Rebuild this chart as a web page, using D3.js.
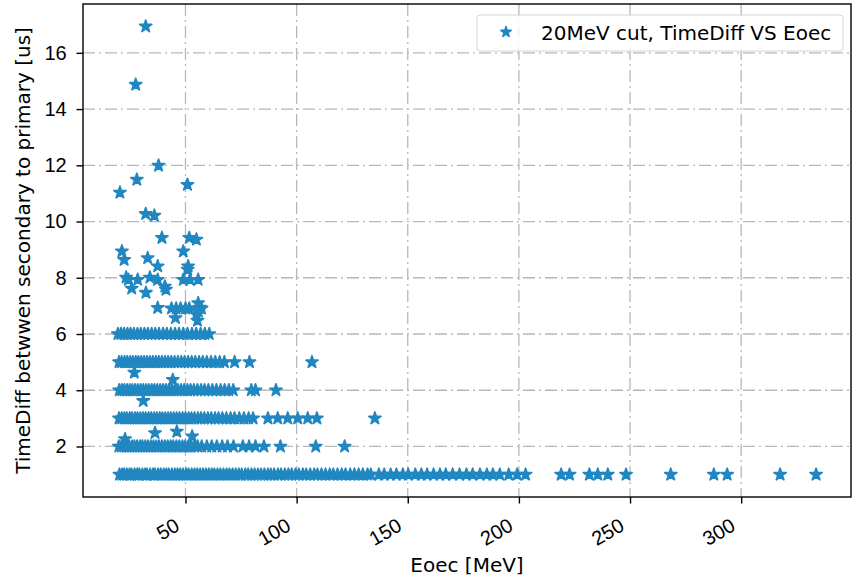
<!DOCTYPE html>
<html>
<head>
<meta charset="utf-8">
<script src="https://cdn.jsdelivr.net/npm/d3@7"></script>
<style>
	body { margin: 0; background: white; }
	svg { font-family: "DejaVu Sans", sans-serif; }
</style>
</head>
<body>
<svg id="chart" width="856" height="579"></svg>
<script>
	// Eoec [MeV] values of the points sitting on each integer TimeDiff row
	const row1X = [20.3, 21.5, 22.4, 23.6, 24.8, 25.7, 27.1, 28.3, 29.2, 30.6, 31.8, 32.7, 34.1, 35.4, 36.3, 37.7,
		38.9, 40.2, 41.4, 42.5, 43.9, 45.2, 46.4, 47.6, 48.9, 50.3, 51.4, 52.8, 54.1, 55.3, 56.6, 57.9, 59.2, 60.5,
		61.8, 63.0, 64.4, 65.7, 67.1, 68.5, 69.8, 71.2, 72.6, 74.0, 75.3, 76.9, 78.2, 79.7, 81.1, 82.6, 84.0, 85.5,
		87.1, 88.4, 89.9, 91.6, 93.0, 94.7, 96.3, 97.8, 99.5, 101.0, 102.8, 104.3, 106.1, 107.9, 109.4, 111.2, 113.0,
		114.9, 116.5, 118.4, 120.3, 122.0, 124.1, 126.0, 127.9, 129.8, 131.9, 133.4, 137.0, 139.4, 142.3, 144.9,
		147.8, 150.2, 153.4, 156.1, 158.7, 161.6, 164.5, 167.1, 170.2, 173.3, 176.4, 179.2, 182.5, 185.6, 188.3,
		191.4, 195.4, 199.2, 203.0, 219.0, 222.8, 231.7, 235.5, 240.0, 248.2, 268.3, 287.7, 293.7, 317.5, 333.7];
	const row2X = [20.0, 21.2, 22.3, 23.5, 24.6, 25.9, 27.0, 28.2, 29.5, 30.6, 31.9, 33.1, 34.4, 35.6, 36.9, 38.1,
		39.4, 40.7, 42.0, 43.3, 44.5, 45.9, 47.2, 48.6, 49.9, 51.3, 52.6, 54.0, 55.5, 57.3, 59.6, 61.8, 64.1, 66.5,
		68.9, 71.6, 75.8, 78.6, 81.5, 85.3, 92.7, 108.6, 121.6];
	const row3X = [20.1, 21.3, 22.5, 23.6, 24.9, 26.0, 27.3, 28.4, 29.7, 30.9, 32.1, 33.4, 34.6, 35.9, 37.1, 38.4,
		39.6, 40.9, 42.2, 43.4, 44.7, 46.0, 47.3, 48.7, 50.0, 51.4, 52.7, 54.1, 55.6, 57.0, 58.5, 60.1, 61.6, 63.3,
		64.9, 66.6, 68.4, 70.3, 72.1, 74.2, 76.3, 78.4, 80.4, 87.1, 91.5, 96.0, 100.5, 105.0, 109.1, 135.2];
	const row4X = [20.2, 21.4, 22.5, 23.7, 24.9, 26.1, 27.3, 28.5, 29.8, 31.0, 32.3, 33.5, 34.8, 36.0, 37.3, 38.6,
		39.9, 41.2, 42.5, 43.9, 45.2, 46.6, 48.0, 49.4, 50.9, 52.3, 53.8, 55.4, 57.0, 58.6, 60.3, 62.1, 63.9, 65.8,
		67.6, 69.5, 71.5, 79.6, 81.5, 90.7];
	const row5X = [20.1, 21.3, 22.6, 23.8, 25.1, 26.3, 27.6, 28.8, 30.1, 31.4, 32.7, 34.0, 35.3, 36.7, 38.0, 39.4,
		40.8, 42.2, 43.6, 45.1, 46.6, 48.1, 49.6, 51.2, 52.8, 54.4, 56.1, 57.8, 59.6, 61.5, 63.4, 65.4, 67.5, 72.1,
		78.8, 106.9];
	const row6X = [19.6, 21.0, 22.4, 23.9, 25.3, 26.8, 28.4, 29.9, 31.5, 33.1, 34.8, 36.4, 38.1, 39.9, 41.6, 43.4,
		45.3, 47.1, 49.0, 50.9, 52.9, 54.8, 56.8, 58.7, 60.7];

	// points that are not on an integer row
	const otherX = [32.1, 27.6, 37.9, 20.5, 28.1, 50.9, 32.1, 36.0, 39.4, 51.7, 54.9, 21.4, 22.4, 33.0, 37.5, 49.0,
		51.2, 51.0, 23.3, 24.3, 28.5, 34.0, 37.5, 25.8, 32.2, 40.7, 41.2, 49.0, 52.0, 55.7, 37.5, 43.7, 45.8, 47.8,
		50.0, 51.7, 55.7, 56.4, 57.2, 45.5, 54.9, 55.4, 55.8, 27.0, 44.3, 31.0, 22.8, 36.3, 46.1, 53.0];
	const otherY = [16.94, 14.87, 11.99, 11.03, 11.49, 11.31, 10.27, 10.21, 9.42, 9.42, 9.36, 8.94, 8.64, 8.70, 8.41,
		8.94, 8.41, 8.29, 8.01, 7.93, 7.93, 8.01, 7.93, 7.62, 7.47, 7.69, 7.58, 7.93, 7.93, 7.93, 6.93, 6.91, 6.91,
		6.91, 6.91, 6.91, 7.10, 6.94, 6.91, 6.57, 6.69, 6.48, 6.80, 4.63, 4.37, 3.62, 2.26, 2.48, 2.53, 2.36];

	const xTicks = [50, 100, 150, 200, 250, 300];
	const yTicks = [2, 4, 6, 8, 10, 12, 14, 16];
	const legendLabel = "20MeV cut, TimeDiff VS Eoec";

	window.addEventListener("load", init);

	function init() {
		let points = [];
		[row1X, row2X, row3X, row4X, row5X, row6X].forEach(function(row, i) {
			row.forEach(function(x) { points.push({x: x, y: i + 1}); });
		});
		otherX.forEach(function(x, i) { points.push({x: x, y: otherY[i]}); });
		drawChart(points);
	}

	function drawChart(points) {
		let svg = d3.select("#chart"),
			left = 83, right = 851, top = 4, bottom = 497,
			color = "#2187c1",
			gridColor = "#b8b8b8",
			fontSize = "20px";

		// matplotlib style 5% padding around the data
		let xExt = d3.extent(points, function(d) { return d.x; }),
			yExt = d3.extent(points, function(d) { return d.y; }),
			xPad = (xExt[1] - xExt[0]) * 0.05,
			yPad = (yExt[1] - yExt[0]) * 0.05;

		let x = d3.scaleLinear().domain([xExt[0] - xPad, xExt[1] + xPad]).range([left, right]);
		let y = d3.scaleLinear().domain([yExt[0] - yPad, yExt[1] + yPad]).range([bottom, top]);

		// grid
		let grid = svg.append("g")
			.attr("stroke", gridColor)
			.attr("stroke-width", 1.3)
			.attr("stroke-dasharray", "12,4,2,4");
		grid.selectAll(".gx").data(xTicks).enter().append("line")
			.attr("x1", function(d) { return x(d); })
			.attr("x2", function(d) { return x(d); })
			.attr("y1", top)
			.attr("y2", bottom);
		grid.selectAll(".gy").data(yTicks).enter().append("line")
			.attr("x1", left)
			.attr("x2", right)
			.attr("y1", function(d) { return y(d); })
			.attr("y2", function(d) { return y(d); });

		// points
		let star = d3.symbol().type(d3.symbolStar).size(46);
		svg.append("g")
			.selectAll("path")
			.data(points)
			.enter()
			.append("path")
			.attr("d", star)
			.attr("transform", function(d) { return "translate(" + x(d.x) + "," + y(d.y) + ")"; })
			.attr("fill", color)
			.attr("stroke", color)
			.attr("stroke-width", 1.7)
			.attr("stroke-linejoin", "round");

		// axes
		let xAxis = svg.append("g")
			.attr("transform", "translate(0," + bottom + ")")
			.call(d3.axisBottom(x).tickValues(xTicks).tickSize(6.5).tickPadding(5).tickFormat(d3.format("d")));
		xAxis.selectAll("text")
			.style("font-size", fontSize)
			.attr("fill", "black")
			.attr("text-anchor", "end")
			.attr("dy", null)
			.attr("y", null)
			.attr("transform", "translate(-5,32.5) rotate(-30)");

		let yAxis = svg.append("g")
			.attr("transform", "translate(" + left + ",0)")
			.call(d3.axisLeft(y).tickValues(yTicks).tickSize(6.5).tickPadding(9.8).tickFormat(d3.format("d")));
		yAxis.selectAll("text")
			.style("font-size", fontSize)
			.attr("fill", "black");

		[xAxis, yAxis].forEach(function(a) {
			a.select(".domain").remove();
			a.selectAll(".tick line").attr("stroke", "black").attr("stroke-width", 1.4);
		});

		// frame
		svg.append("rect")
			.attr("x", left)
			.attr("y", top)
			.attr("width", right - left)
			.attr("height", bottom - top)
			.attr("fill", "none")
			.attr("stroke", "black")
			.attr("stroke-width", 1.4);

		// axis labels
		svg.append("text")
			.attr("x", (left + right) / 2)
			.attr("y", 572)
			.attr("text-anchor", "middle")
			.style("font-size", fontSize)
			.text("Eoec [MeV]");

		svg.append("text")
			.attr("transform", "translate(30," + (top + bottom) / 2 + ") rotate(-90)")
			.attr("text-anchor", "middle")
			.style("font-size", fontSize)
			.text("TimeDiff betwwen secondary to primary [us]");

		// legend
		let legend = svg.append("g");
		legend.append("rect")
			.attr("x", 477)
			.attr("y", 15)
			.attr("width", 366)
			.attr("height", 36)
			.attr("rx", 3)
			.attr("fill", "white")
			.attr("fill-opacity", 0.8)
			.attr("stroke", "#d5d5d5");
		legend.append("path")
			.attr("d", d3.symbol().type(d3.symbolStar).size(34))
			.attr("transform", "translate(506,32)")
			.attr("fill", color)
			.attr("stroke", color)
			.attr("stroke-width", 1.5)
			.attr("stroke-linejoin", "round");
		legend.append("text")
			.attr("x", 541)
			.attr("y", 33)
			.attr("dominant-baseline", "central")
			.style("font-size", fontSize)
			.text(legendLabel);
	}
</script>
</body>
</html>
